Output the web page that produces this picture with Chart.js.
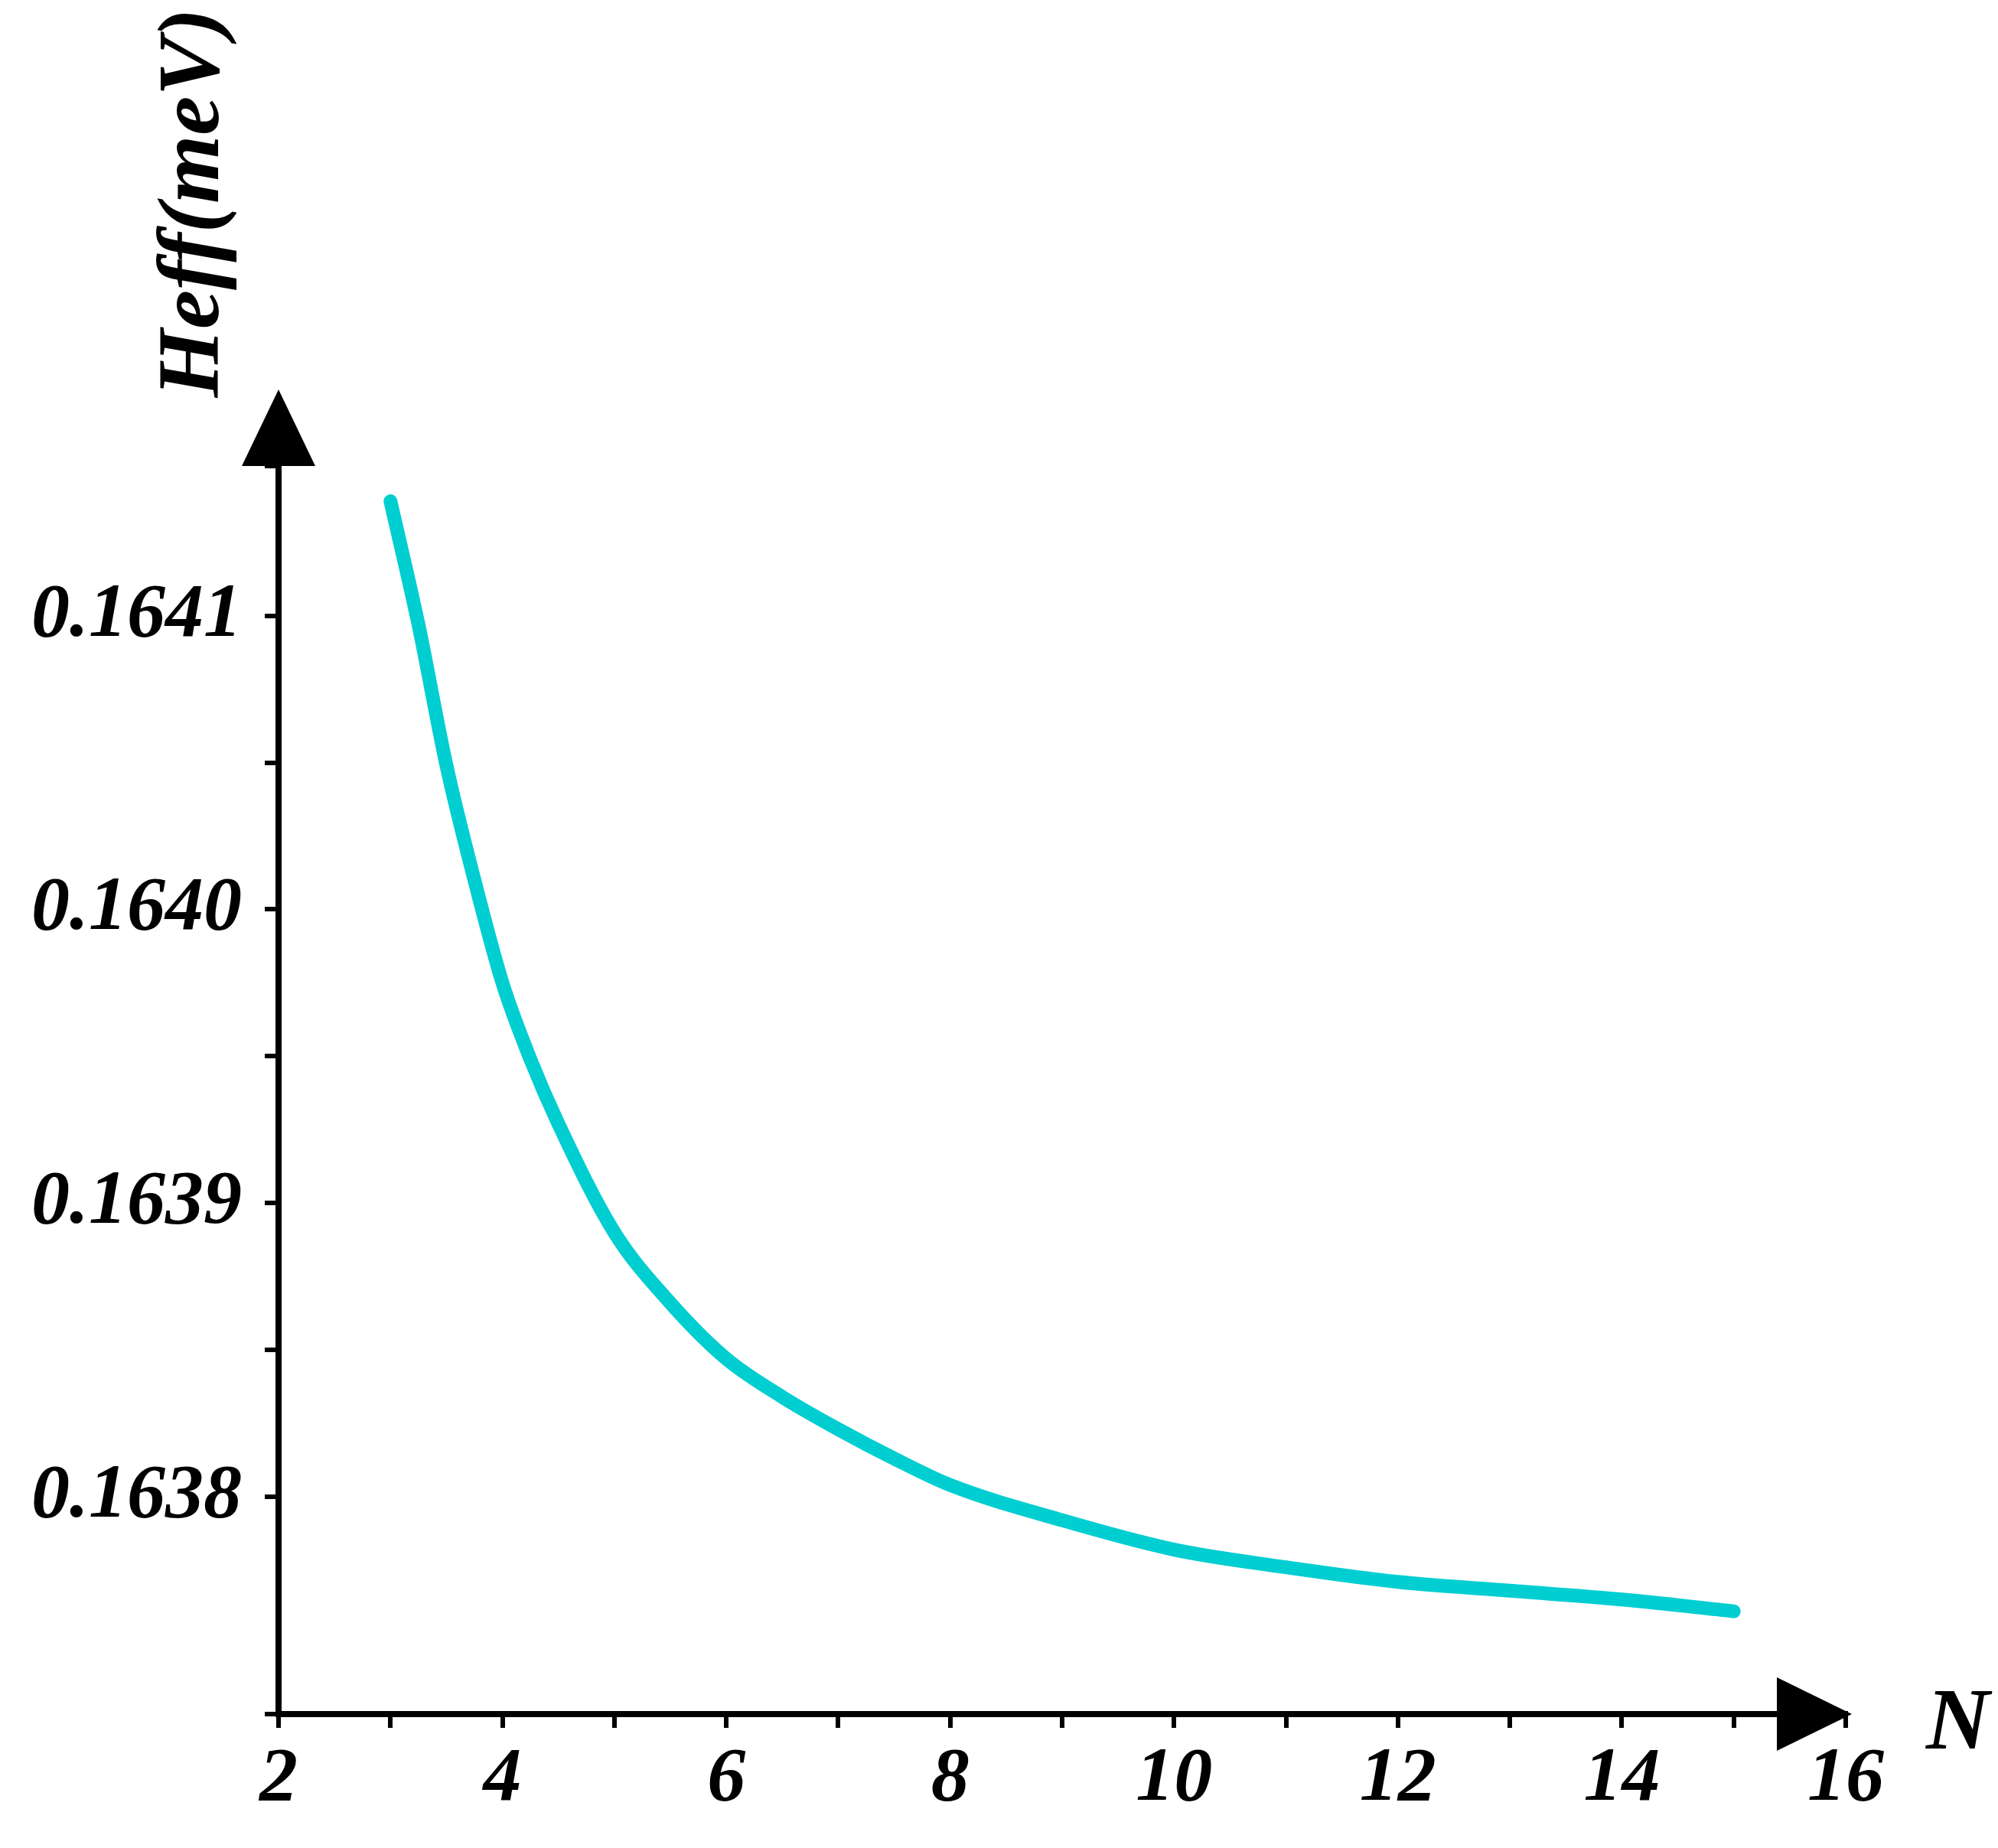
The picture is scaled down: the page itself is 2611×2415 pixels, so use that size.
<!DOCTYPE html>
<html>
<head>
<meta charset="utf-8">
<script src="https://cdn.jsdelivr.net/npm/chart.js@4.4.1/dist/chart.umd.min.js"></script>
<style>
  html, body { margin: 0; padding: 0; background: #fff; }
  #wrap { width: 2611px; height: 2415px; }
</style>
</head>
<body>
<div id="wrap"><canvas id="heffChart" width="2611" height="2415"></canvas></div>
<script>
// values
const nValues = [3, 3.25, 3.5, 3.75, 4, 4.25, 4.5, 5, 5.5, 6, 6.5, 7, 7.5, 8, 9, 10, 11, 12, 13, 14, 15];
const heffValues = [0.164139, 0.164097, 0.164049, 0.164010, 0.163975, 0.163949, 0.163927, 0.163890,
  0.163866, 0.163847, 0.163834, 0.163823, 0.163813, 0.163804, 0.163792, 0.163782, 0.163776,
  0.163771, 0.163768, 0.163765, 0.163761];
const xTickLabels = ['2', '4', '6', '8', '10', '12', '14', '16'];
const yTickLabels = ['0.1638', '0.1639', '0.1640', '0.1641'];

const tickFont = { family: '"Liberation Serif", "Times New Roman", serif', size: 100, weight: 'bold', style: 'italic' };

// arrows and axis titles
const axisDecor = {
  id: 'axisDecor',
  afterDraw(chart) {
    const ctx = chart.ctx;
    const a = chart.chartArea;
    ctx.save();
    ctx.fillStyle = '#000';
    ctx.strokeStyle = '#000';
    ctx.lineWidth = 8;
    // vertical axis arrow
    ctx.beginPath();
    ctx.moveTo(a.left, a.top); ctx.lineTo(a.left, a.top - 12); ctx.stroke();
    ctx.beginPath();
    ctx.moveTo(a.left, a.top - 100);
    ctx.lineTo(a.left - 48, a.top);
    ctx.lineTo(a.left + 48, a.top);
    ctx.closePath(); ctx.fill();
    // horizontal axis arrow
    ctx.beginPath();
    ctx.moveTo(a.right + 8, a.bottom);
    ctx.lineTo(a.right - 90, a.bottom - 48);
    ctx.lineTo(a.right - 90, a.bottom + 48);
    ctx.closePath(); ctx.fill();
    // titles
    ctx.font = 'italic bold 115px "Liberation Serif", serif';
    ctx.textBaseline = 'middle';
    ctx.textAlign = 'left';
    ctx.fillText('N', a.right + 105, a.bottom + 15);
    ctx.translate(255, 265);
    ctx.rotate(-Math.PI / 2);
    ctx.textAlign = 'center';
    ctx.fillText('Heff(meV)', 0, 0);
    ctx.restore();
  }
};

new Chart(document.getElementById('heffChart'), {
  type: 'line',
  data: {
    datasets: [{
      data: nValues.map((n, i) => ({ x: n, y: heffValues[i] })),
      borderColor: '#00CED1',
      borderWidth: 18,
      borderCapStyle: 'round',
      pointRadius: 0,
      cubicInterpolationMode: 'monotone',
      fill: false
    }]
  },
  options: {
    responsive: false,
    devicePixelRatio: 1,
    animation: false,
    layout: { padding: { top: 609, right: 199, left: 0, bottom: 0 } },
    plugins: { legend: { display: false }, tooltip: { enabled: false } },
    scales: {
      x: {
        type: 'linear',
        min: 2, max: 16,
        afterFit(s) { s.height = 175; },
        border: { color: '#000', width: 8 },
        grid: { drawOnChartArea: false, color: '#000', lineWidth: 6, tickLength: 18 },
        ticks: {
          stepSize: 1,
          color: '#000',
          font: tickFont,
          padding: 8,
          maxRotation: 0,
          autoSkip: false,
          callback: v => (v % 2 === 0 && xTickLabels.includes(String(v))) ? String(v) : ''
        }
      },
      y: {
        min: 0.163726, max: 0.164151,
        afterFit(s) { s.width = 364; },
        border: { color: '#000', width: 8 },
        grid: { drawOnChartArea: false, color: '#000', lineWidth: 6, tickLength: 18 },
        ticks: {
          stepSize: 0.00005,
          color: '#000',
          font: tickFont,
          padding: 30,
          autoSkip: false,
          callback: v => {
            const s = v.toFixed(4);
            return (Math.abs(v * 10000 - Math.round(v * 10000)) < 1e-6 && yTickLabels.includes(s)) ? s : '';
          }
        }
      }
    }
  },
  plugins: [axisDecor]
});
</script>
</body>
</html>
